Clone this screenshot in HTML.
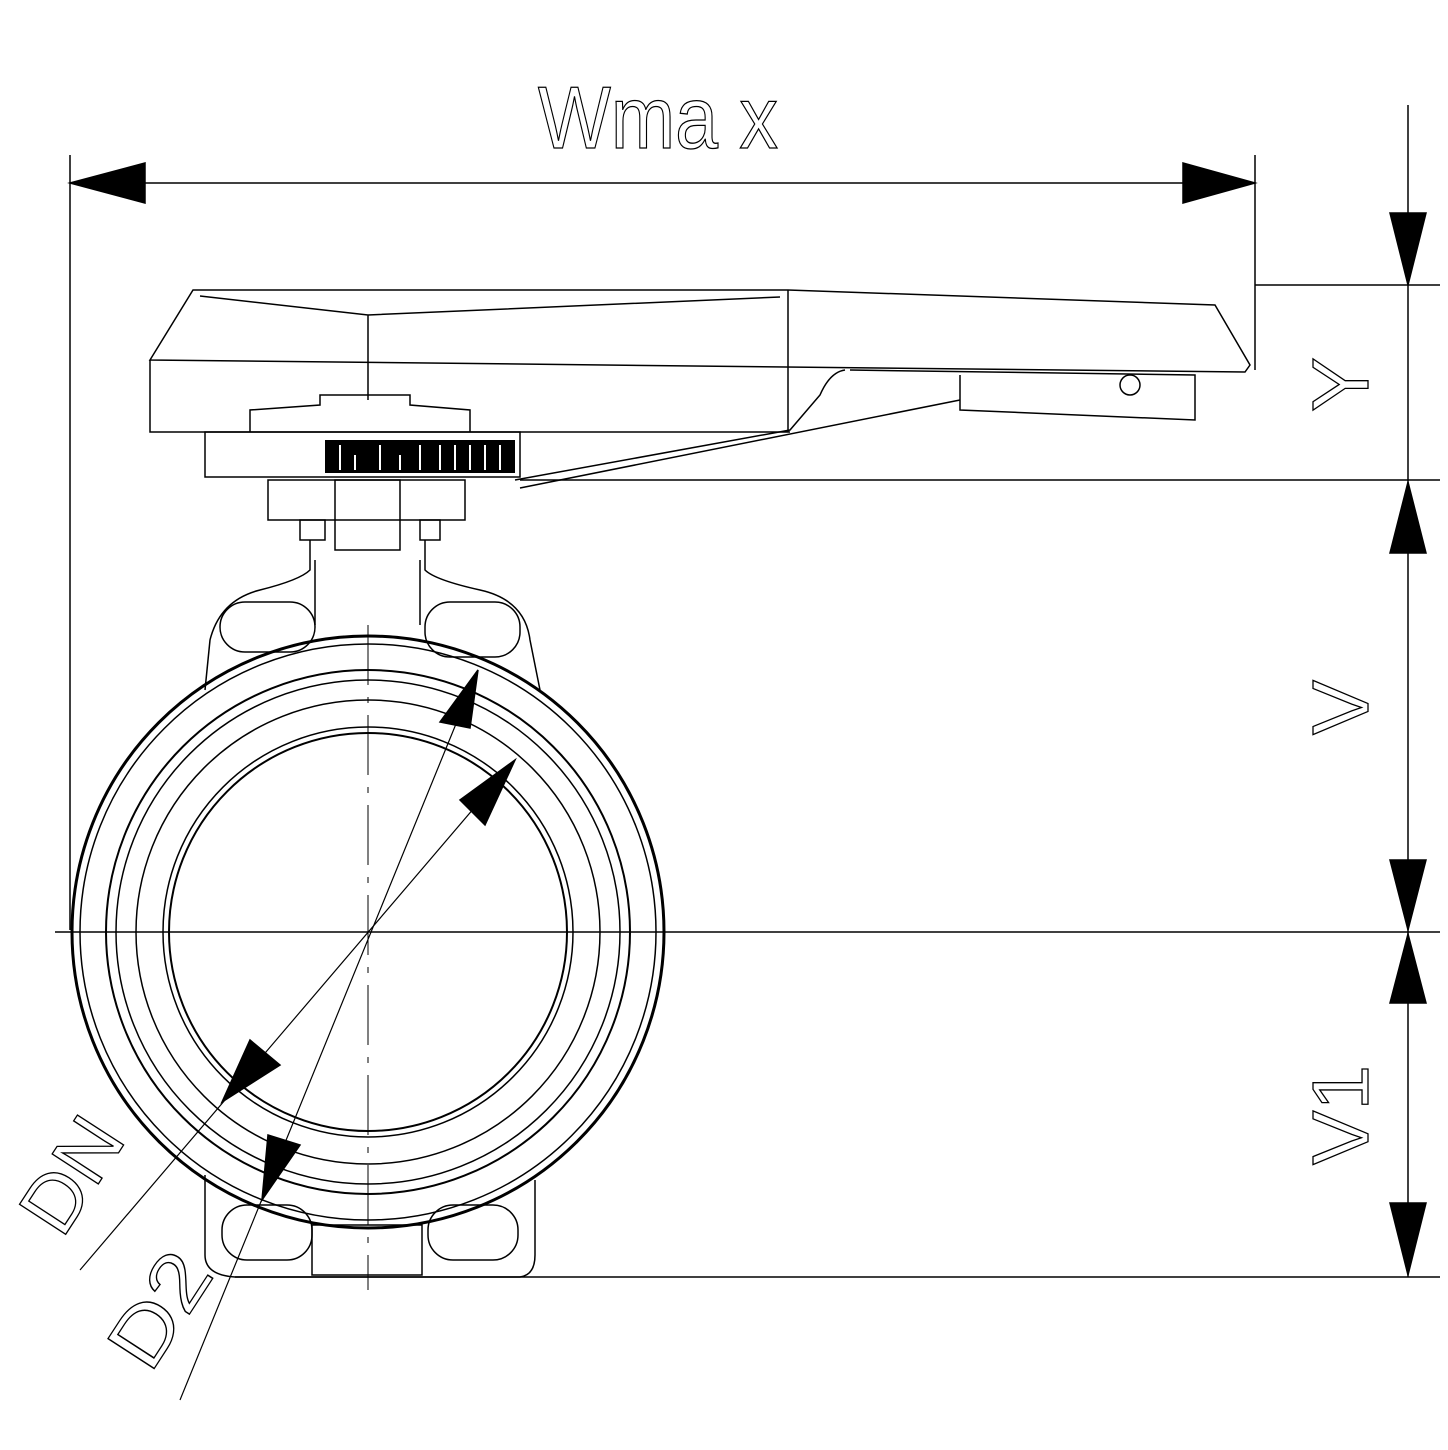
<!DOCTYPE html>
<html><head><style>html,body{margin:0;padding:0;background:#fff}svg{display:block}</style></head>
<body>
<svg width="1448" height="1450" viewBox="0 0 1448 1450" xmlns="http://www.w3.org/2000/svg" fill="none" stroke="#000" stroke-width="1.5">
<!-- Wmax -->
<text x="538" y="148" font-family="Liberation Sans, sans-serif" font-size="88" font-weight="normal" fill="none" stroke="#000" stroke-width="1.3" textLength="240" lengthAdjust="spacingAndGlyphs">Wma x</text>
<!-- top dim -->
<line x1="70" y1="155" x2="70" y2="930"/>
<line x1="1255" y1="155" x2="1255" y2="370"/>
<line x1="70" y1="183" x2="1255" y2="183"/>
<polygon points="70,183 145,163 145,203" fill="#000"/>
<polygon points="1255,183 1183,163 1183,203" fill="#000"/>
<!-- right dim -->
<line x1="1408" y1="105" x2="1408" y2="1277"/>
<line x1="1255" y1="285" x2="1440" y2="285"/>
<line x1="520" y1="480" x2="1440" y2="480"/>
<line x1="55" y1="932" x2="1440" y2="932"/>
<line x1="235" y1="1277" x2="1440" y2="1277"/>
<polygon points="1408,285 1390,213 1426,213" fill="#000"/>
<polygon points="1408,482 1390,553 1426,553" fill="#000"/>
<polygon points="1408,930 1390,860 1426,860" fill="#000"/>
<polygon points="1408,934 1390,1003 1426,1003" fill="#000"/>
<polygon points="1408,1275 1390,1203 1426,1203" fill="#000"/>
<g font-family="Liberation Sans, sans-serif" font-size="80" fill="none" stroke="#000" stroke-width="1.3">
<text transform="translate(1368,412) rotate(-90)" textLength="55" lengthAdjust="spacingAndGlyphs">Y</text>
<text transform="translate(1368,735) rotate(-90)" textLength="55" lengthAdjust="spacingAndGlyphs">V</text>
<text transform="translate(1368,1165) rotate(-90)" textLength="100" lengthAdjust="spacingAndGlyphs">V1</text>
<text transform="translate(62,1240) rotate(-57)" textLength="120" lengthAdjust="spacingAndGlyphs">DN</text>
<text transform="translate(150,1375) rotate(-57)" textLength="120" lengthAdjust="spacingAndGlyphs">D2</text>
</g>
<!-- handle -->
<path d="M193,290 L788,290 L1215,305 L1250,365 L1245,372 L150,360 Z"/>
<path d="M150,360 L150,432 L790,432"/>
<path d="M200,296 L368,315 L780,297 M368,315 L368,400"/>
<line x1="788" y1="290" x2="788" y2="432"/>
<path d="M850,370 L1195,375 L1195,420 L960,410 L960,375"/>
<path d="M845,370 Q830,372 820,395 L790,430 L515,480 M960,400 L520,488"/>
<circle cx="1130" cy="385" r="10"/>
<path d="M250,432 L250,410 L320,405 L320,395 L410,395 L410,405 L470,410 L470,432"/>
<rect x="205" y="432" width="315" height="45"/>
<rect x="325" y="440" width="190" height="33" fill="#000" stroke="none"/>
<g stroke="#fff" stroke-width="2"><line x1="340" y1="445" x2="340" y2="470"/><line x1="355" y1="455" x2="355" y2="470"/><line x1="380" y1="445" x2="380" y2="470"/><line x1="400" y1="455" x2="400" y2="470"/><line x1="420" y1="445" x2="420" y2="470"/><line x1="440" y1="445" x2="440" y2="470"/><line x1="455" y1="445" x2="455" y2="470"/><line x1="470" y1="445" x2="470" y2="470"/><line x1="485" y1="445" x2="485" y2="470"/><line x1="500" y1="445" x2="500" y2="470"/></g>
<rect x="268" y="480" width="197" height="40"/>
<rect x="335" y="480" width="65" height="70"/>
<rect x="300" y="520" width="25" height="20"/><rect x="420" y="520" width="20" height="20"/>
<!-- body neck & lugs -->
<path d="M310,540 L310,570 Q300,580 260,590 Q220,600 210,640 L205,690"/>
<path d="M425,540 L425,570 Q435,580 480,590 Q525,600 530,640 L540,690"/>
<line x1="315" y1="560" x2="315" y2="625"/><line x1="420" y1="560" x2="420" y2="625"/>
<rect x="220" y="602" width="95" height="50" rx="25"/>
<rect x="425" y="602" width="95" height="55" rx="25"/>
<!-- circles -->
<circle cx="368" cy="932" r="296" stroke-width="3"/>
<circle cx="368" cy="932" r="288"/>
<circle cx="368" cy="932" r="262" stroke-width="2"/>
<circle cx="368" cy="932" r="252"/>
<circle cx="368" cy="932" r="232"/>
<circle cx="368" cy="932" r="205"/>
<circle cx="368" cy="932" r="199" stroke-width="2"/>
<!-- bottom lugs -->
<path d="M205,1175 L205,1255 Q205,1275 235,1277 L520,1277 Q535,1275 535,1255 L535,1180"/>
<rect x="222" y="1205" width="90" height="55" rx="25"/>
<rect x="428" y="1205" width="90" height="55" rx="25"/>
<rect x="312" y="1225" width="110" height="50"/>
<!-- center lines -->
<line x1="368" y1="625" x2="368" y2="1290" stroke-width="1" stroke-dasharray="60,12,6,12"/>
<!-- diagonals -->
<line x1="180" y1="1400" x2="478" y2="670" stroke-width="1.2"/>
<line x1="80" y1="1270" x2="515" y2="760" stroke-width="1.2"/>
<polygon points="478,670 440,722 470,728" fill="#000"/>
<polygon points="515,760 460,800 485,825" fill="#000"/>
<polygon points="222,1102 250,1040 280,1065" fill="#000"/>
<polygon points="262,1200 268,1135 300,1145" fill="#000"/>
</svg>
</body></html>
